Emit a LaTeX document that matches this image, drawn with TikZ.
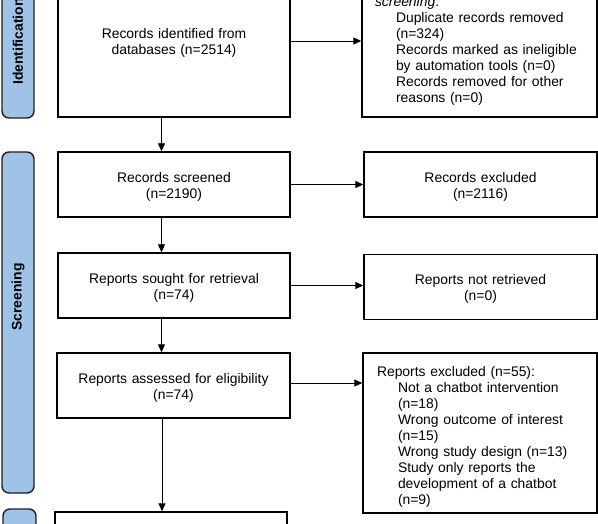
\documentclass[tikz,border=0pt]{standalone}
\usepackage{fontspec}
\setmainfont{Liberation Sans}
\usetikzlibrary{arrows.meta}
\definecolor{barblue}{RGB}{158,195,230}
\definecolor{barline}{RGB}{30,30,30}
\newcommand\fs{\fontsize{13.9}{16}\selectfont}
\newcommand\ind{\hspace*{21pt}}
\begin{document}
\begin{tikzpicture}[x=1pt,y=-1pt,
  box/.style={draw=black, line width=1.4pt, fill=white, inner sep=0pt, text width=212pt, align=center, font=\fs, text height=14pt},
  lbox/.style={box, align=left},
  bar/.style={draw=barline, line width=1.4pt, fill=barblue, rounded corners=7pt, inner sep=0pt},
  barlabel/.style={rotate=90, inner sep=0pt, font=\fs\bfseries},
  arr/.style={line width=0.9pt, -{Triangle[length=8pt,width=7pt]}}]
\useasboundingbox (0,0) rectangle (598,524);
\clip (0,0) rectangle (598,524);
\fill[white] (0,0) rectangle (598,524);
% phase bars
\node[bar, minimum width=32pt, minimum height=153pt] (idbar) at (18,41.5) {};
\node[barlabel] (idlabel) at (idbar.center) {Identification};
\node[bar, minimum width=32pt, minimum height=341pt] (scbar) at (18,322.5) {};
\node[barlabel] (sclabel) at (18,297) {Screening};
\node[bar, minimum width=33pt, minimum height=60pt] (inbar) at (19.5,539) {};
% boxes
\node[box, minimum width=232pt, minimum height=152pt] (ident) at (174,41) {Records identified from\\databases (n=2514)};
\node[lbox, minimum width=235pt, minimum height=152pt, text width=209pt, inner xsep=13pt] (removed) at (479.5,41) {Records removed \textit{before}\\\textit{screening}:\\\ind Duplicate records removed\\\ind (n=324)\\\ind Records marked as ineligible\\\ind by automation tools (n=0)\\\ind Records removed for other\\\ind reasons (n=0)};
\node[box, minimum width=232pt, minimum height=65pt] (screened) at (174,184.5) {Records screened\\(n=2190)};
\node[box, minimum width=233pt, minimum height=65pt] (excluded) at (480.5,184.5) {Records excluded\\(n=2116)};
\node[box, minimum width=232pt, minimum height=65pt] (sought) at (174,285.5) {Reports sought for retrieval\\(n=74)};
\node[box, minimum width=233pt, minimum height=65pt] (notretr) at (480.5,287) {Reports not retrieved\\(n=0)};
\node[box, minimum width=233pt, minimum height=65pt] (assessed) at (173.5,385.5) {Reports assessed for eligibility\\(n=74)};
\node[lbox, minimum width=234pt, minimum height=160pt, text width=206pt, inner xsep=14pt, text height=18pt] (rexcl) at (480,433) {Reports excluded (n=55):\\\ind Not a chatbot intervention\\\ind (n=18)\\\ind Wrong outcome of interest\\\ind (n=15)\\\ind Wrong study design (n=13)\\\ind Study only reports the\\\ind development of a chatbot\\\ind (n=9)};
\node[box, minimum width=232pt, minimum height=60pt] (included) at (171,542) {};
% connectors
\coordinate (vx) at (161.5,0);
\coordinate (vy) at (162,0);
\draw[arr] (ident.east) -- (removed.west);
\draw[arr] (screened.east) -- (excluded.west);
\draw[arr] (sought.east) -- (sought.east -| notretr.west);
\draw[arr] ([yshift=2.5pt]assessed.east) -- ([yshift=2.5pt]assessed.east -| rexcl.west);
\draw[arr] (vx |- ident.south) -- (vx |- screened.north);
\draw[arr] (vx |- screened.south) -- (vx |- sought.north);
\draw[arr] (vx |- sought.south) -- (vx |- assessed.north);
\draw[arr] (vy |- assessed.south) -- (vy |- included.north);
\end{tikzpicture}
\end{document}
